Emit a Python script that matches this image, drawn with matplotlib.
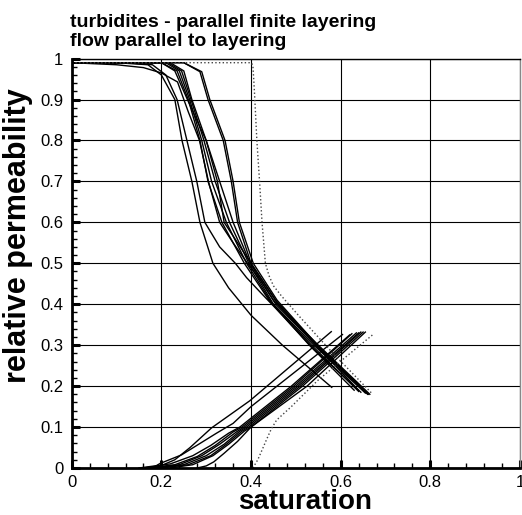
import numpy as np
import matplotlib
matplotlib.use("Agg")
import matplotlib.pyplot as plt
from matplotlib.ticker import MultipleLocator

plt.rcParams['font.family'] = ['Liberation Sans', 'DejaVu Sans']

# decreasing branch: one realisation per row
sat_down = [
    [0, 0.10, 0.17, 0.20, 0.23, 0.246, 0.268, 0.286, 0.315, 0.35, 0.40, 0.47, 0.58],
    [0, 0.12, 0.18, 0.21, 0.235, 0.257, 0.279, 0.297, 0.33, 0.365, 0.39, 0.42, 0.455, 0.54, 0.645],
    [0, 0.10, 0.16, 0.20, 0.236, 0.26, 0.285, 0.305, 0.33, 0.36, 0.392, 0.42, 0.45, 0.54, 0.64],
    [0, 0.20, 0.235, 0.26, 0.286, 0.304, 0.335, 0.385, 0.44, 0.53, 0.63],
    [0, 0.21, 0.24, 0.263, 0.29, 0.312, 0.345, 0.39, 0.445, 0.535, 0.64],
    [0, 0.215, 0.245, 0.266, 0.295, 0.32, 0.352, 0.395, 0.45, 0.54, 0.655],
    [0, 0.22, 0.25, 0.268, 0.30, 0.33, 0.36, 0.398, 0.455, 0.545, 0.66],
    [0, 0.20, 0.23, 0.258, 0.30, 0.325, 0.34, 0.40, 0.46, 0.55, 0.665],
    [0, 0.25, 0.286, 0.304, 0.338, 0.356, 0.37, 0.40, 0.455, 0.545, 0.66],
    [0, 0.25, 0.29, 0.308, 0.342, 0.36, 0.374, 0.405, 0.458, 0.548, 0.662],
]
kr_down = [
    [0.99, 0.99, 0.985, 0.96, 0.9, 0.8, 0.7, 0.6, 0.5, 0.44, 0.373, 0.30, 0.197],
    [0.99, 0.99, 0.985, 0.96, 0.9, 0.8, 0.7, 0.6, 0.54, 0.5, 0.465, 0.43, 0.39, 0.29, 0.185],
    [0.99, 0.985, 0.978, 0.965, 0.943, 0.87, 0.8, 0.7, 0.6, 0.55, 0.5, 0.46, 0.41, 0.305, 0.19],
    [0.99, 0.99, 0.97, 0.9, 0.8, 0.7, 0.6, 0.5, 0.41, 0.3, 0.19],
    [0.99, 0.99, 0.97, 0.9, 0.8, 0.7, 0.6, 0.5, 0.405, 0.3, 0.187],
    [0.99, 0.99, 0.97, 0.9, 0.8, 0.7, 0.6, 0.5, 0.40, 0.3, 0.183],
    [0.99, 0.99, 0.97, 0.9, 0.8, 0.7, 0.6, 0.5, 0.40, 0.3, 0.182],
    [0.99, 0.99, 0.97, 0.9, 0.8, 0.7, 0.6, 0.5, 0.40, 0.3, 0.18],
    [0.99, 0.99, 0.968, 0.9, 0.8, 0.7, 0.6, 0.5, 0.41, 0.3, 0.18],
    [0.99, 0.99, 0.968, 0.9, 0.8, 0.7, 0.6, 0.5, 0.41, 0.3, 0.18],
]

# increasing branch
sat_up = [
    [0.16, 0.20, 0.23, 0.264, 0.312, 0.397, 0.579],
    [0.18, 0.197, 0.245, 0.323, 0.36, 0.40, 0.604],
    [0.15, 0.22, 0.27, 0.31, 0.35, 0.375, 0.49, 0.62],
    [0.17, 0.23, 0.28, 0.32, 0.36, 0.38, 0.495, 0.625],
    [0.18, 0.24, 0.29, 0.33, 0.37, 0.385, 0.50, 0.635],
    [0.19, 0.25, 0.30, 0.34, 0.375, 0.39, 0.505, 0.64],
    [0.20, 0.26, 0.31, 0.345, 0.38, 0.395, 0.51, 0.645],
    [0.22, 0.27, 0.315, 0.35, 0.385, 0.40, 0.515, 0.65],
    [0.28, 0.30, 0.317, 0.34, 0.37, 0.40, 0.525, 0.655],
]
kr_up = [
    [0, 0.006, 0.02, 0.05, 0.098, 0.164, 0.333],
    [0, 0.011, 0.032, 0.085, 0.109, 0.15, 0.326],
    [0, 0.01, 0.03, 0.055, 0.085, 0.1, 0.2, 0.325],
    [0, 0.008, 0.028, 0.055, 0.088, 0.1, 0.2, 0.328],
    [0, 0.008, 0.03, 0.058, 0.09, 0.1, 0.2, 0.33],
    [0, 0.008, 0.03, 0.058, 0.09, 0.1, 0.2, 0.33],
    [0, 0.008, 0.03, 0.058, 0.09, 0.1, 0.2, 0.332],
    [0, 0.008, 0.03, 0.058, 0.09, 0.1, 0.2, 0.332],
    [0, 0.005, 0.015, 0.036, 0.065, 0.1, 0.2, 0.332],
]

# sharp-interface reference case (dotted)
sat_ref_down = [0, 0.25, 0.40, 0.404, 0.406, 0.408, 0.413, 0.419, 0.4245, 0.432, 0.44,
                0.45, 0.468, 0.508, 0.583, 0.668]
kr_ref_down = [0.99, 0.99, 0.99, 0.984, 0.95, 0.91, 0.8, 0.7, 0.6, 0.5, 0.47,
               0.445, 0.42, 0.37, 0.28, 0.184]
sat_ref_up = [0.404, 0.415, 0.425, 0.434, 0.445, 0.457, 0.49, 0.548, 0.61, 0.672]
kr_ref_up = [0, 0.02, 0.045, 0.068, 0.095, 0.117, 0.15, 0.213, 0.27, 0.326]

x_ticks = [0, 0.2, 0.4, 0.6, 0.8, 1.0]
x_labels = ['0', '0.2', '0.4', '0.6', '0.8', '1']
y_ticks = [0, 0.1, 0.2, 0.3, 0.4, 0.5, 0.6, 0.7, 0.8, 0.9, 1.0]
y_labels = ['0', '0.1', '0.2', '0.3', '0.4', '0.5', '0.6', '0.7', '0.8', '0.9', '1']
title_lines = ["turbidites - parallel finite layering", "flow parallel to layering"]

fig = plt.figure(figsize=(5.22, 5.15), dpi=100)
ax = fig.add_axes([0.1374, 0.0913, 0.8588, 0.7949])

for s, k in zip(sat_down, kr_down):
    ax.plot(s, k, color='black', lw=1.0)
for s, k in zip(sat_up, kr_up):
    ax.plot(s, k, color='black', lw=1.0)
ax.plot(sat_ref_down, kr_ref_down, color='#444444', lw=1.0, ls=':')
ax.plot(sat_ref_up, kr_ref_up, color='#444444', lw=1.0, ls=':')

ax.set_xlim(0, 1)
ax.set_ylim(0, 1)
ax.set_xticks(x_ticks, x_labels)
ax.set_yticks(y_ticks, y_labels)
ax.xaxis.set_minor_locator(MultipleLocator(0.04))
ax.yaxis.set_minor_locator(MultipleLocator(0.02))
ax.grid(True, which='major', color='black', lw=0.8)
ax.set_axisbelow(True)

ax.tick_params(which='major', direction='in', length=6, width=2.2, labelsize=12, pad=5)
ax.tick_params(which='minor', direction='in', length=3.6, width=1.0)
ax.tick_params(axis='y', which='major', pad=6)

for side in ['left', 'bottom']:
    ax.spines[side].set_linewidth(2.0)
ax.spines['top'].set_linewidth(1.0)
ax.spines['right'].set_linewidth(1.0)
ax.spines['right'].set_color('#888888')

fig.text(0.134, 0.9476, title_lines[0], fontsize=14, fontweight='bold', va='baseline')
fig.text(0.134, 0.9107, title_lines[1], fontsize=14, fontweight='bold', va='baseline')
fig.text(0.584, 0.012, 'saturation', fontsize=20, fontweight='bold', ha='center', va='baseline')
fig.text(0.034, 0.5417, 'relative permeability', fontsize=22, fontweight='bold',
         rotation=90, ha='center', va='center')

fig.savefig('out.png', dpi=100)
